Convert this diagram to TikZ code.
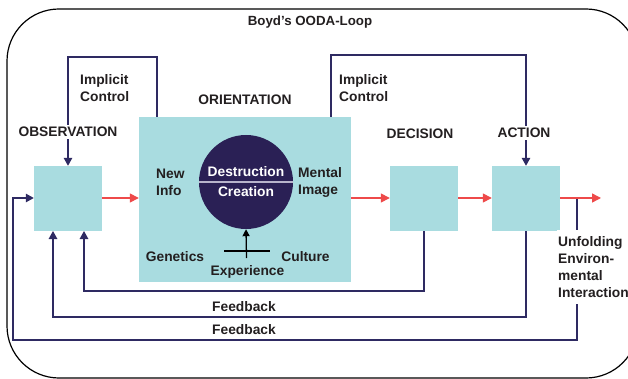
\documentclass[tikz,border=0pt]{standalone}
\usepackage{fontspec}
\setmainfont{Liberation Sans}
\usetikzlibrary{arrows.meta}
\definecolor{boxc}{HTML}{A9DCE0}
\definecolor{navy}{HTML}{2E2A62}
\definecolor{circc}{HTML}{2A2055}
\definecolor{redc}{HTML}{EE4A4A}
\definecolor{txt}{HTML}{231F20}
\definecolor{divc}{HTML}{B8B4CC}
\begin{document}
\begin{tikzpicture}[x=1pt,y=-1pt,
  every node/.style={font=\bfseries\fontsize{13.8}{17}\selectfont, text=txt, inner sep=0pt},
  stagebox/.style={draw=none, fill=boxc, minimum width=68pt, minimum height=65pt},
  navyline/.style={draw=navy, line width=1.4pt},
  fb/.style={navyline, -{Triangle[length=8pt,width=8.5pt]}, shorten >=0pt},
  flow/.style={draw=redc, line width=1.4pt, -{Triangle[length=9pt,width=9pt]}},
  lab/.style={fill=white, inner sep=2pt},
  plain/.style={align=left}
]
\useasboundingbox (0,0) rectangle (628,379);
% outer frame
\draw[line width=1.2pt, rounded corners=52pt] (7,9) rectangle (638,378);
\node[font=\bfseries\fontsize{13.3}{17}\selectfont] (title) at (310,22) {Boyd's OODA-Loop};

% boxes
\node[stagebox] (obs) at (68,198.5) {};
\node[stagebox, minimum width=212pt, minimum height=165pt] (orient) at (245,199.5) {};
\node[stagebox] (dec) at (424,198.5) {};
\node[stagebox] (act) at (526,198.5) {};

% implicit control lines
\coordinate (icl1) at (157,117);
\coordinate (icr1) at (331,117);
\draw[fb] (icl1) -- (157,57) -- (obs.north |- 0,57) -- (obs.north);
\draw[fb] (icr1) -- (331,55) -- (act.north |- 0,55) -- (act.north);

% feedback loops
\draw[fb] (dec.south) -- (dec.south |- 0,291) -- (84,291) -- (84,231);
\draw[fb] (act.south) -- (act.south |- 0,317) -- (53,317) -- (53,231);
\coordinate (unf) at (577,198);
\draw[fb] (unf) -- (577,340) -- (13,340) -- (13,198) -- (obs.west |- 0,198);

% flow arrows
\draw[flow] (obs.east |- 0,198) -- (orient.west |- 0,198);
\draw[flow] (orient.east |- 0,198) -- (dec.west |- 0,198);
\draw[flow] (dec.east |- 0,198) -- (act.west |- 0,198);
\coordinate (out) at (601,198);
\draw[flow] (act.east |- 0,198) -- (out);

% labels
\node[lab] (obsl) at (68,132) {OBSERVATION};
\node (orl) at (245,100) {ORIENTATION};
\node (decl) at (420,134) {DECISION};
\node[lab] (actl) at (524,133) {ACTION};
\node[plain, anchor=west] (ic1) at (80,88.5) {Implicit\\Control};
\node[plain, anchor=west] (ic2) at (339,88.5) {Implicit\\Control};
\node[plain, anchor=west, fill=white, inner ysep=6pt, inner xsep=1pt] (unfl) at (557,267) {Unfolding\\Environ-\\mental\\Interaction};
\node (fb1) at (244,307) {Feedback};
\node (fb2) at (244,330) {Feedback};

% orientation content
\node[circle, fill=circc, minimum size=94pt] (dc) at (246,182) {};
\draw[draw=divc, line width=1.3pt] (dc.west) -- (dc.east);
\node[text=white] (destr) at (246,172) {Destruction};
\node[text=white] (creat) at (246,192) {Creation};
\node[plain, anchor=west] (newinfo) at (156,182) {New\\Info};
\node[plain, anchor=west] (mental) at (298,182) {Mental\\Image};
\node (gen) at (175,257) {Genetics};
\node (cult) at (305.5,257) {Culture};
\node (exp) at (247.5,271.5) {Experience};
\coordinate (expb) at (246.5,258);
\draw[line width=1.3pt, -{Triangle[length=7pt,width=7pt]}] (expb) -- (dc.south);
\draw[line width=1.2pt] (224,251) -- (270,251);
\end{tikzpicture}
\end{document}
